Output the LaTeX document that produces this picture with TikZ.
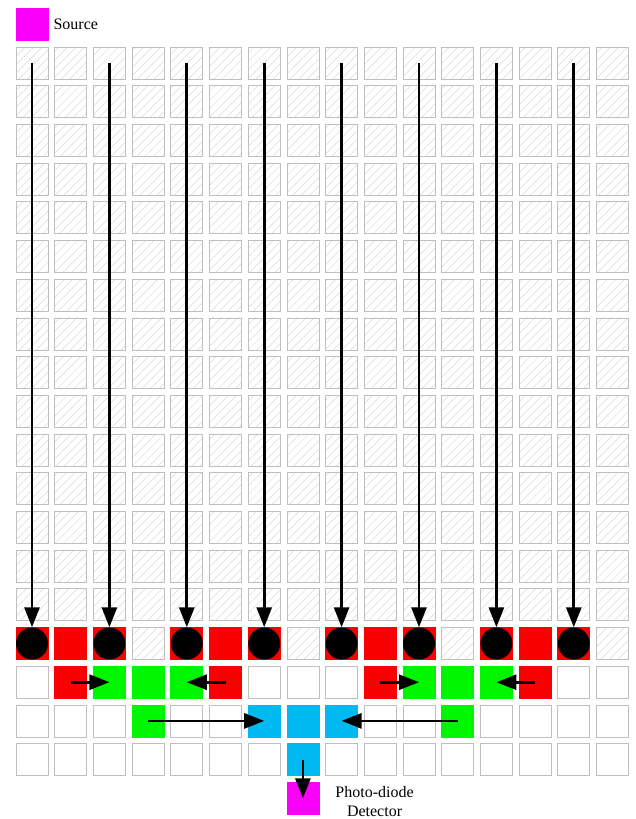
\documentclass[tikz,border=0pt]{standalone}
\usepackage{fontspec}
\setmainfont{Liberation Serif}
\usetikzlibrary{arrows.meta,patterns.meta,positioning}
\definecolor{redsq}{RGB}{250,0,0}
\definecolor{greensq}{RGB}{0,245,0}
\definecolor{bluesq}{RGB}{0,185,240}
\definecolor{pinksq}{RGB}{250,0,250}
\begin{document}
\begin{tikzpicture}[x=1pt, y=-1pt,
    cell/.style={draw=gray!50, line width=0.8pt, minimum size=32pt, inner sep=0pt, outer sep=0pt},
    hatch/.style={cell, pattern={Lines[angle=45,distance=6pt,line width=0.5pt]}, pattern color=gray!30},
    blank/.style={cell, fill=white},
    redcell/.style={cell, draw=redsq, fill=redsq},
    greencell/.style={cell, draw=greensq, fill=greensq},
    bluecell/.style={cell, draw=bluesq, fill=bluesq},
    pinkcell/.style={cell, draw=pinksq, fill=pinksq},
    dot/.style={circle, fill=black, minimum size=32pt, inner sep=0pt},
    beam/.style={-{Triangle[length=20pt,width=15pt]}, line width=2.8pt},
    lbl/.style={font=\fontsize{16}{19}\selectfont, align=center}]
    \useasboundingbox (0,0) rectangle (636,819);

    % source
    \node[pinkcell] (src) at (32,24) {};
    \node[lbl, right=2pt of src] (srclbl) {Source};

    % hatched rows
    \foreach \r in {0,...,14}
        \foreach \c in {0,...,15}
            \node[hatch] (c-\c-\r) at ({32+38.7*\c},{63+38.7*\r}) {};

    % row 15: absorbers
    \foreach \c in {0,2,...,14} {
        \node[redcell] (c-\c-15) at ({32+38.7*\c},{63+38.7*15}) {};
        \node[dot] (d-\c) at (c-\c-15) {};
    }
    \foreach \c in {1,5,9,13} \node[redcell] (c-\c-15) at ({32+38.7*\c},{63+38.7*15}) {};
    \foreach \c in {3,7,11,15} \node[hatch] (c-\c-15) at ({32+38.7*\c},{63+38.7*15}) {};

    % row 16
    \foreach \c in {0,6,7,8,14,15} \node[blank] (c-\c-16) at ({32+38.7*\c},{63+38.7*16}) {};
    \foreach \c in {1,5,9,13} \node[redcell] (c-\c-16) at ({32+38.7*\c},{63+38.7*16}) {};
    \foreach \c in {2,3,4,10,11,12} \node[greencell] (c-\c-16) at ({32+38.7*\c},{63+38.7*16}) {};

    % row 17
    \foreach \c in {0,1,2,4,5,9,10,12,13,14,15} \node[blank] (c-\c-17) at ({32+38.7*\c},{63+38.7*17}) {};
    \foreach \c in {3,11} \node[greencell] (c-\c-17) at ({32+38.7*\c},{63+38.7*17}) {};
    \foreach \c in {6,7,8} \node[bluecell] (c-\c-17) at ({32+38.7*\c},{63+38.7*17}) {};

    % row 18
    \foreach \c in {0,...,6,8,9,...,15} \node[blank] (c-\c-18) at ({32+38.7*\c},{63+38.7*18}) {};
    \node[bluecell] (c-7-18) at ({32+38.7*7},{63+38.7*18}) {};

    % detector
    \node[pinkcell] (pd) at ({32+38.7*7},{63+38.7*19}) {};
    \node[lbl, right=13pt of pd, yshift=-3pt] (pdlbl) {Photo-diode\\Detector};

    % arrows
    \foreach \c in {0,2,...,14} \draw[beam] (c-\c-0.center) -- (d-\c.north);
    \draw[beam] (c-1-16.center) -- (c-2-16.center);
    \draw[beam] (c-5-16.center) -- (c-4-16.center);
    \draw[beam] (c-9-16.center) -- (c-10-16.center);
    \draw[beam] (c-13-16.center) -- (c-12-16.center);
    \draw[beam] (c-3-17.center) -- (c-6-17.center);
    \draw[beam] (c-11-17.center) -- (c-8-17.center);
    \draw[beam] (c-7-18.center) -- (pd.center);
\end{tikzpicture}
\end{document}
